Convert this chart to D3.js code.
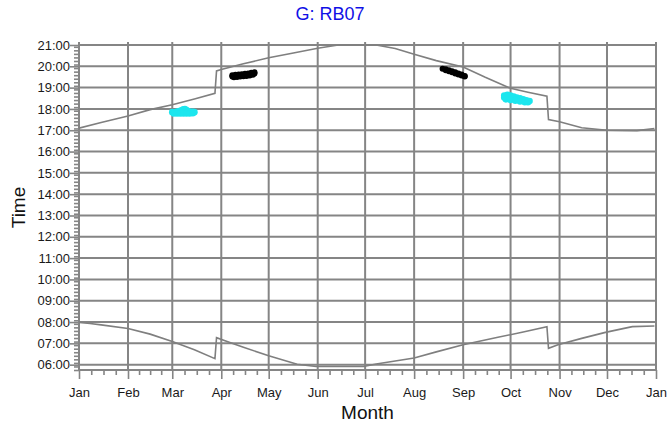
<!DOCTYPE html>
<html lang="en">
<head>
  <meta charset="UTF-8">
  <title>G: RB07</title>
  <script src="https://d3js.org/d3.v7.min.js"></script>
  <style>
    body { margin: 0; background: #fff; }
    text { font-family: "Liberation Sans", Arial, sans-serif; }
  </style>
</head>
<body>
<script>
  // ---- data (mm-dd, hh:mm) ----
  var monthLabels = ["Jan", "Feb", "Mar", "Apr", "May", "Jun", "Jul", "Aug", "Sep", "Oct", "Nov", "Dec", "Jan"];
  var hourLabels = ["06:00", "07:00", "08:00", "09:00", "10:00", "11:00", "12:00", "13:00",
    "14:00", "15:00", "16:00", "17:00", "18:00", "19:00", "20:00", "21:00"];

  var sunsetDates = ["01-01", "01-15", "02-01", "02-15", "03-01", "03-15", "03-28", "03-29", "04-01", "04-15",
    "05-01", "05-15", "06-01", "06-14", "07-08", "07-20", "08-01", "08-15", "09-01", "09-15",
    "10-01", "10-12", "10-24", "10-25", "11-01", "11-15", "12-01", "12-20", "12-31"];
  var sunsetTimes = ["17:06", "17:22", "17:40", "17:58", "18:12", "18:28", "18:44", "19:47", "19:51", "20:07",
    "20:24", "20:36", "20:51", "21:00", "21:00", "20:50", "20:34", "20:16", "19:58", "19:29",
    "18:58", "18:47", "18:36", "17:30", "17:24", "17:07", "17:00", "16:59", "17:05"];

  var sunriseDates = ["01-01", "01-08", "01-15", "02-01", "02-15", "03-01", "03-15", "03-28", "03-29", "04-06",
    "04-15", "05-01", "05-19", "05-31", "06-30", "07-08", "08-01", "08-15", "09-01", "09-23",
    "10-09", "10-24", "10-25", "10-31", "11-15", "11-30", "12-17", "12-31"];
  var sunriseTimes = ["07:59", "07:56", "07:52", "07:42", "07:26", "07:05", "06:42", "06:17", "07:16", "07:03",
    "06:49", "06:25", "06:01", "05:55", "05:55", "06:02", "06:19", "06:36", "06:56", "07:17",
    "07:32", "07:47", "06:46", "06:56", "07:14", "07:31", "07:47", "07:49"];

  var cyanDates = ["03-01", "03-02", "03-03", "03-04", "03-05", "03-06", "03-07", "03-07", "03-08", "03-08",
    "03-09", "03-09", "03-10", "03-10", "03-11", "03-12", "03-13", "03-14", "03-15",
    "03-02", "03-04", "03-06", "03-08", "03-10", "03-12", "03-14",
    "09-27", "09-27", "09-29", "09-29", "09-29", "10-01", "10-01", "10-03", "10-03", "10-05",
    "10-05", "10-07", "10-07", "10-09", "10-09", "10-11", "10-13",
    "09-28", "10-01", "10-04", "10-07", "10-10", "10-12"];
  var cyanTimes = ["17:51", "17:50", "17:51", "17:52", "17:53", "17:55", "17:56", "17:52", "17:59", "17:53",
    "18:00", "17:52", "17:57", "17:51", "17:54", "17:52", "17:51", "17:52", "17:51",
    "17:47", "17:47", "17:47", "17:47", "17:47", "17:47", "17:48",
    "18:38", "18:32", "18:40", "18:34", "18:28", "18:38", "18:31", "18:35", "18:29", "18:32",
    "18:27", "18:30", "18:25", "18:27", "18:23", "18:24", "18:22",
    "18:27", "18:25", "18:23", "18:21", "18:19", "18:19"];

  var blackDates = ["04-08", "04-08", "04-10", "04-10", "04-12", "04-12", "04-14", "04-14", "04-16", "04-16",
    "04-18", "04-18", "04-20", "04-20", "04-22", "04-22",
    "04-09", "04-11", "04-13", "04-15", "04-17", "04-19", "04-21",
    "08-19", "08-21", "08-21", "08-23", "08-23", "08-25", "08-25", "08-27", "08-27", "08-29",
    "08-29", "08-31", "08-31", "09-02", "09-02"];
  var blackTimes = ["19:31", "19:35", "19:32", "19:36", "19:33", "19:37", "19:34", "19:38", "19:35", "19:39",
    "19:36", "19:40", "19:38", "19:42", "19:40", "19:43",
    "19:29", "19:30", "19:31", "19:32", "19:33", "19:34", "19:36",
    "19:53", "19:52", "19:49", "19:49", "19:46", "19:46", "19:43", "19:43", "19:40", "19:40",
    "19:37", "19:37", "19:34", "19:33", "19:31"];

  // ---- helpers ----
  var parseDay = d3.timeParse("%Y-%m-%d");
  function toDate(md) { return parseDay("2021-" + md); }
  function toHours(hm) { var p = hm.split(":"); return +p[0] + (+p[1]) / 60; }
  function pairs(dates, times) {
    return dates.map(function (d, i) { return { date: toDate(d), t: toHours(times[i]) }; });
  }

  var sunset = pairs(sunsetDates, sunsetTimes);
  var sunrise = pairs(sunriseDates, sunriseTimes);
  var cyanPts = pairs(cyanDates, cyanTimes);
  var blackPts = pairs(blackDates, blackTimes);

  w = 669
  h = 427
  margin = { top: 45, right: 13, bottom: 57, left: 79 }
  width = w - margin.left - margin.right
  height = h - margin.top - margin.bottom

  var start = new Date(2021, 0, 1), end = new Date(2022, 0, 1);
  var x = d3.scaleTime().domain([start, end]).range([0, width]);
  var y = d3.scaleLinear().domain([5.75, 21]).range([height, 0]);

  var monthTicks = d3.timeMonth.range(start, new Date(2022, 0, 2));
  var quarterTicks = [];
  for (var m = 0; m < 12; m++) {
    var a = monthTicks[m], b = monthTicks[m + 1];
    for (var q = 1; q < 4; q++) quarterTicks.push(new Date(+a + (b - a) * q / 4));
  }
  var hourTicks = d3.range(6, 22);
  var minorTicks = d3.range(5.75, 21, 1 / 6).filter(function (v) { return Math.abs(v - Math.round(v)) > 0.01; });

  var svg = d3.select("body").append("svg")
    .attr("width", w)
    .attr("height", h)

  var g = svg.append("g")
    .attr("transform", "translate(" + margin.left + "," + margin.top + ")");

  var grid = "#858585";

  // grid
  g.selectAll(".hgrid").data(hourTicks).enter().append("line")
    .attr("x1", 0).attr("x2", width)
    .attr("y1", function (d) { return y(d); }).attr("y2", function (d) { return y(d); })
    .attr("stroke", grid).attr("stroke-width", 2);

  g.selectAll(".vgrid").data(monthTicks).enter().append("line")
    .attr("x1", function (d) { return x(d); }).attr("x2", function (d) { return x(d); })
    .attr("y1", -3).attr("y2", height)
    .attr("stroke", grid).attr("stroke-width", 2);

  // bottom axis line
  g.append("line").attr("x1", 0).attr("x2", width).attr("y1", height).attr("y2", height)
    .attr("stroke", grid).attr("stroke-width", 2);

  // x axis ticks
  var xMajor = g.append("g").attr("transform", "translate(0," + height + ")")
    .call(d3.axisBottom(x).tickValues(monthTicks).tickSize(9)
      .tickFormat(function (d, i) { return monthLabels[i]; }));
  var xMinor = g.append("g").attr("transform", "translate(0," + height + ")")
    .call(d3.axisBottom(x).tickValues(quarterTicks).tickSize(5).tickFormat(""));

  // y axis ticks
  var yMajor = g.append("g")
    .call(d3.axisLeft(y).tickValues(hourTicks).tickSize(9)
      .tickFormat(function (d, i) { return hourLabels[i]; }));
  var yMinor = g.append("g")
    .call(d3.axisLeft(y).tickValues(minorTicks).tickSize(5).tickFormat(""));

  [xMajor, xMinor, yMajor, yMinor].forEach(function (ax) {
    ax.select(".domain").remove();
    ax.selectAll(".tick line").attr("stroke", grid).attr("stroke-width", 1.6);
    ax.selectAll(".tick text")
      .attr("font-family", "Liberation Sans, Arial, sans-serif")
      .attr("font-size", 13).attr("fill", "#1a1a1a");
  });
  xMajor.selectAll(".tick text").attr("dy", "1.15em");
  yMajor.selectAll(".tick text").attr("x", -9);

  // clip for curves
  svg.append("clipPath").attr("id", "plot")
    .append("rect").attr("x", 0).attr("y", -1).attr("width", width).attr("height", height + 1);

  var line = d3.line()
    .x(function (d) { return x(d.date); })
    .y(function (d) { return y(d.t); });

  var curves = g.append("g").attr("clip-path", "url(#plot)");
  [sunset, sunrise].forEach(function (s) {
    curves.append("path").datum(s)
      .attr("d", line)
      .attr("fill", "none")
      .attr("stroke", "#7f7f7f")
      .attr("stroke-width", 1.6);
  });

  // observations
  g.selectAll(".cyan").data(cyanPts).enter().append("circle")
    .attr("cx", function (d) { return x(d.date); })
    .attr("cy", function (d) { return y(d.t); })
    .attr("r", 3.3)
    .attr("fill", "#1ce6ee");

  g.selectAll(".black").data(blackPts).enter().append("circle")
    .attr("cx", function (d) { return x(d.date); })
    .attr("cy", function (d) { return y(d.t); })
    .attr("r", 3)
    .attr("fill", "#000");

  // titles
  svg.append("text")
    .attr("x", 330).attr("y", 20)
    .attr("text-anchor", "middle")
    .attr("font-size", 18)
    .attr("fill", "#1010e6")
    .text("G: RB07");

  svg.append("text")
    .attr("x", margin.left + width / 2).attr("y", 419)
    .attr("text-anchor", "middle")
    .attr("font-size", 19)
    .attr("fill", "#111")
    .text("Month");

  svg.append("text")
    .attr("transform", "translate(25," + (margin.top + height / 2) + ") rotate(-90)")
    .attr("text-anchor", "middle")
    .attr("font-size", 19)
    .attr("fill", "#111")
    .text("Time");
</script>
</body>
</html>
